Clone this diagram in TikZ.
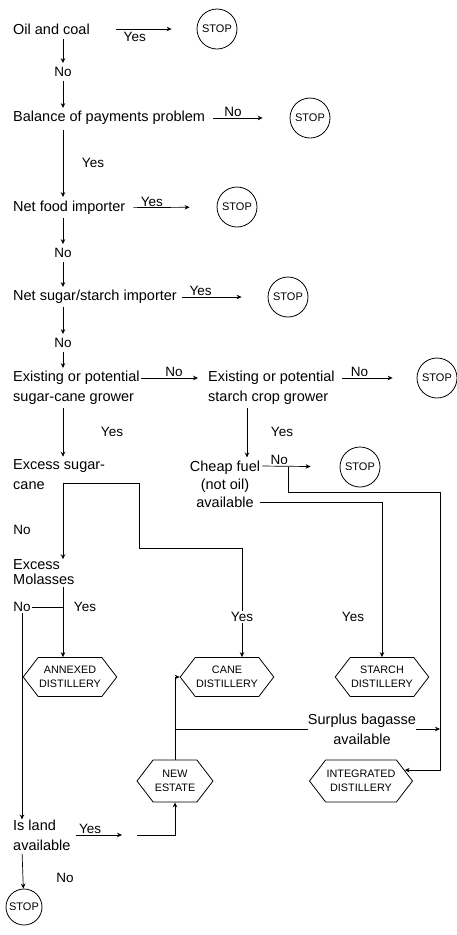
\documentclass[tikz,border=0pt]{standalone}
\usepackage{fontspec}
\setmainfont{Liberation Sans}
\usetikzlibrary{shapes.symbols, arrows.meta, positioning, calc}
\tikzset{
  question/.style   = {anchor=west, align=left, inner sep=0pt,
                       font=\fontsize{14.5}{20}\selectfont},
  answer/.style     = {inner sep=1pt, font=\fontsize{13.5}{16}\selectfont},
  stopsign/.style   = {circle, draw, line width=0.8pt, minimum size=40pt,
                       inner sep=0pt, font=\fontsize{11}{12}\selectfont},
  distillery/.style = {signal, signal to=west and east, signal pointer angle=105,
                       draw, line width=0.8pt, align=center, inner sep=1pt,
                       minimum height=39pt, minimum width=88pt,
                       font=\fontsize{10.8}{13.5}\selectfont},
  arrow/.style      = {-{Stealth[length=5pt, width=4.5pt]}, line width=0.7pt},
  link/.style       = {line width=0.7pt},
}

\begin{document}
\begin{tikzpicture}[x=1pt, y=-1pt]
  \useasboundingbox (0,0) rectangle (457,935);

  \coordinate (spine)       at (63,0);
  \coordinate (starch_drop) at (247,0);

  % question column
  \node[question] (oil_coal)    at (13,29)   {Oil and coal};
  \node[stopsign] (stop_oil)    at (217,29)  {STOP};
  \node[answer]   (no_oil)      at (63,72)   {No};
  \node[question] (balance)     at (13,118)  {Balance of payments problem};
  \node[stopsign] (stop_bal)    at (310,118) {STOP};
  \node[answer]   (yes_bal)     at (93,163)  {Yes};
  \node[question] (food)        at (13,208)  {Net food importer};
  \node[stopsign] (stop_food)   at (237,207) {STOP};
  \node[answer]   (no_food)     at (63,253)  {No};
  \node[question] (sugar_imp)   at (13,297)  {Net sugar/starch importer};
  \node[stopsign] (stop_sugar)  at (288,297) {STOP};
  \node[answer]   (no_sugar)    at (63,343)  {No};
  \node[question] (cane_grow)   at (13,388)  {Existing or potential\\sugar-cane grower};
  \node[question] (starch_grow) at (208,388) {Existing or potential\\starch crop grower};
  \node[stopsign] (stop_starch) at (437,378) {STOP};
  \node[answer]   (yes_cane_g)  at (112,432) {Yes};
  \node[answer]   (yes_starch_g) at (282,432) {Yes};

  \node[question] (sugar_cane)  at (13,475)  {Excess sugar-\\cane};
  \node[question, anchor=center, align=center,
        font=\fontsize{14.5}{18}\selectfont] (cheap_fuel) at (225,484)
        {Cheap fuel\\(not oil)\\available};
  \node[stopsign] (stop_fuel)   at (360,467) {STOP};
  \node[answer]   (no_cane)     at (22,530)  {No};
  \node[question] (molasses)    at (13,572)  {Excess\\[-5pt]Molasses};
  \node[answer]   (no_mol)      at (22,607)  {No};
  \node[answer]   (yes_mol)     at (85,607)  {Yes};
  \node[answer]   (yes_cane)    at (242,617) {Yes};
  \node[answer]   (yes_starch)  at (353,617) {Yes};

  % distilleries
  \node[distillery] (annexed) at (70,677) {ANNEXED\\DISTILLERY};
  \node[distillery, minimum width=90pt] (cane) at (227,677) {CANE\\DISTILLERY};
  \node[distillery] (starch) at (382,677) {STARCH\\DISTILLERY};
  \node[question, anchor=center, align=center] (surplus) at (362,729)
        {Surplus bagasse\\available};
  \node[distillery, minimum width=76pt, minimum height=42pt] (new_estate)
        at (175,781) {NEW\\ESTATE};
  \node[distillery, minimum width=103pt, minimum height=42pt] (integrated)
        at (361,781) {INTEGRATED\\DISTILLERY};

  \node[question] (land)      at (13,835) {Is land\\available};
  \node[answer]   (no_land)   at (65,878) {No};
  \node[stopsign, minimum size=36pt] (stop_land) at (24,907) {STOP};

  \coordinate (cane_split) at (63,483);
  \coordinate (fuel_split) at (288,467);
  \coordinate (right_bus)  at (440,492);
  \coordinate (land_gap)   at (130,835);

  % main spine
  \draw[arrow, shorten <=4pt, shorten >=3pt] (oil_coal.south -| spine) -- (no_oil);
  \draw[arrow, shorten <=3pt, shorten >=3pt] (no_oil) -- (balance.north -| spine);
  \draw[arrow, shorten <=5pt, shorten >=4pt] (balance.south -| spine) -- (food.north -| spine);
  \draw[arrow, shorten <=3pt, shorten >=3pt] (food.south -| spine) -- (no_food);
  \draw[arrow, shorten <=3pt, shorten >=3pt] (no_food) -- (sugar_imp.north -| spine);
  \draw[arrow, shorten <=3pt, shorten >=3pt] (sugar_imp.south -| spine) -- (no_sugar);
  \draw[arrow, shorten <=3pt, shorten >=3pt] (no_sugar) -- (cane_grow.north -| spine);
  \draw[arrow, shorten <=3pt, shorten >=3pt] (cane_grow.south -| spine) -- (sugar_cane.north -| spine);

  % exits to STOP
  \draw[arrow, shorten <=26pt, shorten >=25pt] (oil_coal) -- (stop_oil)
        node[answer, below=2pt, pos=0.42] {Yes};
  \draw[arrow, shorten <=8pt, shorten >=27pt] (balance) -- (stop_bal)
        node[answer, above, pos=0.33] {No};
  \draw[arrow, shorten <=8pt, shorten >=27pt] (food) -- (stop_food)
        node[answer, above, pos=0.29] {Yes};
  \draw[arrow, shorten <=5pt, shorten >=26pt] (sugar_imp) -- (stop_sugar)
        node[answer, above, pos=0.26] {Yes};
  \draw[arrow, shorten <=1pt, shorten >=10pt] ([yshift=10pt]cane_grow.east)
        -- ([yshift=10pt]starch_grow.west) node[answer, above, midway] {No};
  \draw[arrow, shorten <=7pt, shorten >=24pt] ([yshift=10pt]starch_grow.east)
        -- (stop_starch) node[answer, above, pos=0.3] {No};

  % starch branch
  \draw[arrow, shorten <=3pt, shorten >=3pt] (starch_grow.south -| starch_drop)
        -- (cheap_fuel.north -| starch_drop);
  \draw[arrow, shorten <=2pt, shorten >=29pt] ([yshift=18pt]cheap_fuel.east)
        -- (stop_fuel) node[answer, above, pos=0.24] {No};
  \draw[arrow] (fuel_split) |- (right_bus) |- (integrated.14);
  \draw[arrow] ([yshift=-18pt]cheap_fuel.east) -| (starch.north);

  % sugar-cane branch
  \draw[link] (cane_split) -| ++(76,65) -| (yes_cane.north);
  \draw[arrow] (yes_cane.south) -- (cane.north -| yes_cane);
  \draw[arrow] (cane_split) -- (molasses.north -| spine);
  \draw[arrow, shorten <=2pt] (molasses.south -| spine) -- (annexed.north -| spine);
  \draw[link] (no_mol) -- (no_mol -| spine);
  \draw[arrow] (no_mol.south) -- (land.north -| no_mol);

  % new estate
  \draw[arrow, shorten <=5pt, shorten >=8pt] (land.east) -- (land_gap)
        node[answer, above, pos=0.33] {Yes};
  \draw[arrow, shorten <=7pt] (land_gap) -| (new_estate.south);
  \draw[arrow] (new_estate.north) |- (cane.west);
  \draw[link] (new_estate.north |- surplus.west) -- (surplus.west);
  \draw[arrow] (surplus.east) -- (surplus.east -| right_bus);
  \draw[arrow, shorten <=3pt] (land.south -| no_mol) -- (stop_land);
\end{tikzpicture}
\end{document}
